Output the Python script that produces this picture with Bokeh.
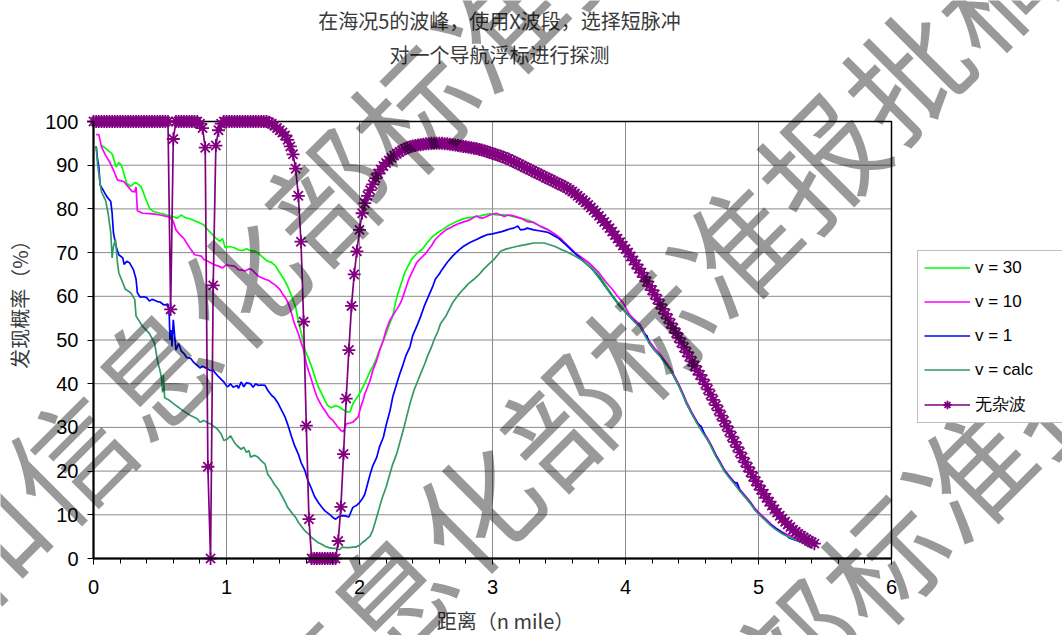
from math import pi
from bokeh.plotting import figure
from bokeh.models import Range1d, Label, Legend, LegendItem, SingleIntervalTicker
from bokeh.embed import file_html
from bokeh.resources import INLINE

# ---------------- data ----------------
v30_x = [0.06,0.10,0.14,0.17,0.19,0.21,0.23,0.25,0.28,0.31,0.33,0.36,0.39,0.42,0.45,0.50,0.53,0.56,0.60,0.63,
         0.66,0.69,0.73,0.76,0.80,0.83,0.86,0.89,0.92,0.95,0.97,0.99,1.02,1.06,1.09,1.12,1.15,1.18,1.21,1.24,
         1.27,1.30,1.34,1.37,1.40,1.43,1.46,1.49,1.52,1.54,1.57,1.59,1.62,1.64,1.67,1.69,1.72,1.74,1.76,1.79,
         1.82,1.85,1.88,1.91,1.93,1.95,1.98,2.00,2.03,2.05,2.08,2.10,2.13,2.15,2.18,2.20,2.23,2.25,2.27,2.29,
         2.32,2.34,2.37,2.39,2.43,2.47,2.51,2.55,2.59,2.62,2.67,2.73,2.77,2.80,2.85,2.91,2.95,2.98,3.03,3.07,
         3.11,3.15,3.19,3.24,3.29,3.35,3.42,3.47,3.52,3.57,3.62,3.67,3.72,3.76,3.80,
         3.85,3.90,3.95,4.00,4.03,4.07,4.11,4.15,4.18,4.22,4.26,4.30,4.34,4.37,4.40,4.43,4.46,4.50,4.54,4.58,
         4.62,4.65,4.68,4.71,4.74,4.78,4.82,4.86,4.90,4.94,4.97,5.01,5.05,5.09,5.13,5.18,5.23,5.28,5.32,5.36,5.40]
v30_y = [94.6,93.6,92.6,89.6,90.6,90.0,87.9,85.8,85.2,86.0,85.8,85.0,82.5,80.2,79.4,79.0,78.8,78.5,78.2,77.9,
         78.6,78.0,77.7,77.3,76.8,76.3,75.2,74.3,73.3,72.6,73.2,71.1,71.4,71.1,70.6,70.5,70.9,70.4,70.4,69.8,
         69.0,68.2,67.7,66.9,65.4,64.0,62.3,60.0,57.5,54.5,50.5,47.7,45.5,43.9,41.0,39.3,37.5,36.2,35.0,34.5,
         35.0,34.6,34.0,33.5,33.6,35.4,36.8,37.7,39.5,40.8,42.8,43.9,46.0,47.7,50.0,51.5,54.0,55.4,58.5,60.8,
         63.5,65.4,67.2,68.4,69.8,70.7,72.3,73.7,74.6,75.2,76.2,77.1,77.6,77.9,78.1,78.4,78.7,78.9,78.6,78.7,
         78.6,78.3,78.0,77.7,77.2,76.2,75.2,74.2,73.0,71.4,69.9,68.8,67.7,66.5,65.0,
         62.6,60.3,58.3,56.6,55.6,54.3,53.3,51.0,49.4,47.8,46.4,44.8,43.3,41.5,39.7,37.7,35.6,33.2,31.0,29.0,
         27.2,25.4,23.5,22.0,20.3,18.7,17.2,15.6,14.2,12.7,11.4,10.1,9.0,7.8,6.8,5.8,5.1,4.5,4.0,3.5,3.0]

v10_x = [0.02,0.04,0.06,0.09,0.12,0.15,0.18,0.21,0.23,0.26,0.29,0.31,0.32,0.33,0.37,0.42,0.46,0.50,0.55,0.58,
         0.60,0.62,0.65,0.68,0.70,0.73,0.76,0.78,0.81,0.83,0.86,0.88,0.91,0.94,0.97,1.00,1.03,1.06,1.09,1.12,
         1.14,1.17,1.19,1.22,1.24,1.27,1.29,1.32,1.34,1.37,1.40,1.42,1.45,1.47,1.49,1.51,1.54,1.56,1.58,1.60,
         1.62,1.64,1.66,1.68,1.70,1.72,1.75,1.77,1.80,1.82,1.84,1.86,1.88,1.90,1.93,1.95,1.97,1.99,2.01,2.03,
         2.04,2.06,2.08,2.10,2.13,2.15,2.18,2.20,2.23,2.25,2.28,2.30,2.32,2.35,2.37,2.40,2.43,2.46,2.50,2.54,
         2.57,2.61,2.65,2.70,2.75,2.79,2.83,2.88,2.90,2.93,2.96,2.98,3.03,3.06,3.09,3.12,3.14,3.17,3.21,3.26,
         3.31,3.36,3.42,3.47,3.52,3.57,3.62,3.67,3.72,3.76,3.80,3.85,3.90,3.94,3.98,
         4.03,4.07,4.11,4.15,4.18,4.22,4.26,4.30,4.34,4.37,4.40,4.43,4.46,4.50,4.54,4.58,4.62,4.65,4.68,4.71,
         4.74,4.78,4.82,4.86,4.90,4.94,4.97,5.01,5.05,5.09,5.13,5.18,5.23,5.28,5.32,5.36,5.40]
v10_y = [97.0,97.0,94.2,92.3,90.8,88.9,86.6,86.4,86.2,85.1,84.0,83.9,85.0,79.6,79.0,78.9,78.8,78.6,78.3,77.9,
         77.1,75.2,74.1,73.2,72.2,70.8,69.5,69.4,69.2,68.4,68.0,67.7,67.2,66.9,66.5,67.2,67.0,66.9,66.1,66.0,
         65.8,66.3,66.1,65.2,64.6,64.2,63.9,63.6,63.1,62.5,61.6,60.6,59.3,58.0,56.0,53.8,51.5,49.5,47.7,44.6,
         42.6,40.8,38.8,37.0,35.8,34.7,33.4,32.4,31.6,30.8,30.0,29.3,29.0,30.8,31.0,31.2,31.8,32.4,34.7,36.5,
         37.7,39.2,40.8,43.0,45.4,47.5,50.0,52.3,54.6,55.6,57.0,58.0,59.3,62.0,63.9,65.8,67.7,68.7,69.9,71.5,
         73.0,74.2,75.2,76.0,76.7,77.1,77.5,78.4,78.0,77.9,78.3,78.6,79.0,78.6,78.3,78.6,78.5,78.3,77.9,77.1,
         76.9,76.0,75.2,74.2,73.0,71.5,70.0,68.9,67.8,66.6,65.4,63.4,61.6,60.0,58.6,
         55.8,54.6,53.5,51.3,49.7,48.1,46.7,45.1,43.5,41.7,39.9,37.9,35.8,33.4,31.2,29.2,27.4,25.6,23.7,22.2,
         20.5,18.9,17.4,15.8,14.4,12.9,11.6,10.3,9.2,8.0,7.0,6.0,5.3,4.6,4.1,3.6,3.1]

v1_x = [0.02,0.03,0.04,0.05,0.08,0.10,0.13,0.14,0.15,0.17,0.19,0.22,0.23,0.25,0.27,0.30,0.32,0.33,0.35,0.38,
        0.40,0.42,0.44,0.46,0.48,0.50,0.53,0.56,0.57,0.575,0.585,0.59,0.60,0.61,0.62,0.64,0.66,0.68,0.70,0.73,
        0.75,0.78,0.80,0.82,0.85,0.88,0.90,0.92,0.94,0.96,0.98,1.00,1.01,1.03,1.05,1.08,1.09,1.11,1.13,1.15,
        1.18,1.20,1.22,1.24,1.26,1.29,1.31,1.34,1.36,1.39,1.41,1.44,1.46,1.49,1.51,1.54,1.56,1.59,1.61,1.64,
        1.66,1.69,1.72,1.74,1.77,1.80,1.82,1.85,1.87,1.90,1.92,1.95,1.98,2.00,2.02,2.04,2.06,2.08,2.10,2.13,
        2.15,2.18,2.20,2.23,2.25,2.28,2.30,2.33,2.35,2.38,2.40,2.43,2.46,2.49,2.52,2.55,2.57,2.60,2.62,2.66,
        2.70,2.74,2.78,2.83,2.88,2.92,2.96,3.00,3.03,3.07,3.11,3.14,3.16,3.19,3.21,3.24,3.26,3.31,3.35,3.39,
        3.42,3.46,3.50,3.55,3.60,3.65,3.70,3.75,3.80,
        3.85,3.90,3.95,4.00,4.03,4.07,4.11,4.14,4.16,4.18,4.22,4.26,4.30,4.34,4.37,4.40,4.43,4.46,4.50,4.54,
        4.57,4.60,4.64,4.68,4.71,4.74,4.78,4.82,4.84,4.86,4.90,4.94,4.97,5.01,5.05,5.09,5.13,5.18,5.21,5.23,
        5.28,5.32,5.36,5.40]
v1_y = [94.4,91.5,89.6,85.5,83.9,82.8,81.7,79.0,74.5,71.4,69.5,68.8,67.3,68.0,67.7,66.1,63.9,60.8,59.8,59.9,
        59.7,58.9,59.3,59.1,58.8,58.7,58.0,58.2,55.4,50.0,52.3,48.5,54.6,51.0,47.7,49.2,47.5,46.9,46.0,45.8,
        45.0,44.2,43.6,44.0,43.5,43.0,43.1,42.3,41.6,41.0,40.4,39.5,39.3,40.0,39.2,39.6,38.9,40.4,39.3,40.2,
        40.0,39.2,40.0,39.6,39.7,39.6,38.5,37.3,36.8,35.4,34.2,32.4,30.7,27.8,26.0,23.9,22.0,20.1,18.0,15.9,
        14.3,12.8,11.6,10.9,10.2,9.4,9.0,9.7,9.8,9.7,9.5,11.7,12.2,12.8,13.6,14.7,17.0,19.3,21.2,23.2,
        25.5,27.8,30.5,33.9,37.0,40.0,42.0,44.6,46.5,48.5,51.0,53.1,55.4,58.0,60.1,62.2,63.9,65.1,66.1,67.8,
        69.2,70.4,71.4,72.3,73.0,73.6,74.1,74.3,74.5,74.8,75.2,75.5,75.6,76.1,75.2,75.3,75.6,75.2,75.0,74.8,
        74.6,73.9,73.2,71.8,70.4,69.0,67.6,66.2,64.4,
        62.2,60.1,58.0,56.4,55.4,54.2,53.1,51.4,51.0,49.2,47.6,46.4,44.8,43.1,41.3,39.6,37.6,35.4,33.1,31.0,
        30.2,28.0,26.0,23.6,22.0,20.3,18.7,17.4,17.3,15.6,14.1,12.7,11.3,10.0,8.9,7.8,6.9,5.9,5.3,4.7,
        4.2,3.7,3.2,2.7]

calc_x = [0.02,0.03,0.05,0.06,0.09,0.11,0.13,0.14,0.15,0.165,0.18,0.19,0.22,0.24,0.28,0.31,0.32,0.33,0.37,0.42,
          0.46,0.48,0.50,0.51,0.52,0.525,0.535,0.57,0.62,0.67,0.73,0.78,0.80,0.83,0.86,0.88,0.93,0.96,0.98,1.01,
          1.03,1.06,1.08,1.11,1.13,1.15,1.17,1.18,1.21,1.235,1.26,1.29,1.31,1.34,1.36,1.39,1.41,1.44,1.46,1.49,
          1.52,1.54,1.57,1.59,1.62,1.64,1.67,1.69,1.72,1.74,1.77,1.80,1.82,1.85,1.87,1.90,1.92,1.95,1.97,2.00,
          2.02,2.05,2.08,2.10,2.12,2.15,2.17,2.20,2.22,2.25,2.28,2.30,2.33,2.36,2.38,2.41,2.44,2.46,2.49,2.51,
          2.54,2.56,2.59,2.61,2.65,2.70,2.74,2.78,2.82,2.86,2.90,2.93,2.97,3.01,3.04,3.06,3.10,3.14,3.18,3.21,
          3.26,3.31,3.35,3.39,3.43,3.47,3.51,3.55,3.59,3.62,3.66,3.70,3.75,3.80,
          3.85,3.90,3.95,4.00,4.03,4.07,4.11,4.15,4.18,4.22,4.26,4.30,4.34,4.37,4.40,4.43,4.46,4.50,4.54,4.58,
          4.62,4.65,4.68,4.71,4.74,4.78,4.82,4.86,4.90,4.94,4.97,5.01,5.05,5.09,5.13,5.18,5.23,5.28,5.32,5.36,5.40]
calc_y = [94.4,90.4,85.8,83.9,82.0,79.0,74.5,68.8,71.4,73.0,67.7,65.4,63.1,61.6,60.8,59.3,55.5,55.0,53.1,51.5,
          49.2,45.4,43.0,41.5,38.0,42.0,36.8,36.2,35.0,33.9,32.7,32.0,31.2,31.6,31.0,30.8,29.7,28.5,27.0,27.4,
          28.1,26.5,25.8,25.0,25.5,24.3,24.7,23.2,23.6,23.2,22.4,21.6,19.3,18.0,17.0,15.8,14.7,13.0,11.7,10.5,
          9.4,8.3,7.1,6.3,5.5,4.8,4.1,3.6,3.2,2.8,2.5,2.3,2.3,2.0,2.6,2.5,2.5,2.6,2.6,3.0,
          3.6,4.3,5.1,6.5,8.5,11.7,13.8,16.3,18.5,21.6,24.0,26.2,29.5,33.1,35.5,38.5,40.8,42.3,44.5,46.2,
          48.3,50.0,52.0,53.8,55.5,58.5,60.2,61.6,62.9,63.9,65.0,66.1,67.3,68.4,69.5,70.3,70.8,71.1,71.4,71.6,
          71.9,72.2,72.2,72.2,71.8,71.4,70.8,70.3,69.7,69.2,68.5,67.6,66.2,64.2,
          62.2,60.0,58.0,56.3,55.4,54.0,53.1,50.8,49.2,47.6,46.2,44.6,43.1,41.3,39.5,37.5,35.4,33.0,30.8,28.8,
          27.0,25.2,23.3,21.8,20.1,18.5,17.0,15.4,14.0,12.5,11.2,9.9,8.8,7.6,6.6,5.6,4.9,4.3,3.8,3.3,2.8]

# 无杂波: one reading every 0.02 n mile from 0 to 5.42
clear_y = ([100]*29 + [57, 96] + [100]*9 +
           [99.5, 98.5, 94, 21, 0, 62.5, 94.5, 98, 99.5] + [100]*17 +
           [99.8, 99.5, 99.0, 98.5, 98.0, 97.5, 96.8, 95.8, 94.3, 92.5, 89.2, 83.0, 72.5, 54.2, 30.4, 9.0] +
           [0]*10 +
           [4.0, 11.8, 23.9, 36.6, 47.7, 57.8, 65.0, 70.3, 75.2, 79.0,
            81.3, 83.0, 84.3, 85.6, 87.0, 88.1, 89.0, 89.8, 90.5, 91.1,
            91.7, 92.2, 92.6, 93.0, 93.4, 93.7, 94.0, 94.2, 94.4, 94.5,
            94.6, 94.7, 94.8, 94.9, 94.9, 95.0, 95.0, 95.0, 95.0, 95.0,
            94.9, 94.9, 94.8, 94.7, 94.6, 94.5, 94.4, 94.3, 94.2, 94.1,
            94.0, 93.9, 93.8, 93.6, 93.5, 93.3, 93.1, 92.9, 92.7, 92.5,
            92.3, 92.1, 91.9, 91.6, 91.4, 91.1, 90.8, 90.5, 90.2, 89.9,
            89.6, 89.3, 89.0, 88.7, 88.4, 88.1, 87.8, 87.5, 87.2, 86.9,
            86.6, 86.3, 86.0, 85.7, 85.4, 85.1, 84.8, 84.4, 84.0, 83.5,
            83.0, 82.5, 82.0, 81.5, 80.9, 80.3, 79.7, 79.1, 78.4, 77.7,
            77.0, 76.3, 75.6, 74.8, 74.0, 73.2, 72.4, 71.6, 70.8, 70.0,
            69.1, 68.2, 67.3, 66.3, 65.4, 64.4, 63.4, 62.4, 61.4, 60.4,
            59.3, 58.2, 57.1, 56.0, 54.9, 53.8, 52.7, 51.6, 50.5, 49.4,
            48.3, 47.2, 46.2, 45.1, 44.1, 43.0, 42.0, 41.0, 39.9, 38.7,
            37.5, 36.3, 35.1, 33.9, 32.7, 31.5, 30.3, 29.1, 27.9, 26.7,
            25.5, 24.3, 23.1, 22.0, 20.9, 19.8, 18.7, 17.7, 16.7, 15.7,
            14.8, 13.9, 13.0, 12.1, 11.3, 10.5, 9.8, 9.1, 8.4, 7.8,
            7.2, 6.6, 6.1, 5.6, 5.2, 4.8, 4.4, 4.0, 3.7, 3.4])
clear_x = [round(0.02 * i, 2) for i in range(len(clear_y))]

series_labels = ["v = 30", "v = 10", "v = 1", "v = calc", "无杂波"]
series_colors = ["#00FF00", "#FF00FF", "#0000FF", "#339966", "#800080"]

x_ticks = [0, 1, 2, 3, 4, 5, 6]
y_ticks = [0, 10, 20, 30, 40, 50, 60, 70, 80, 90, 100]

title_lines = ["在海况5的波峰，使用X波段，选择短脉冲", "对一个导航浮标进行探测"]
x_title = "距离（n mile）"
y_title = "发现概率（%）"
watermark = "工业和信息化部标准报批稿"

# ---------------- layout geometry (canvas pixels) ----------------
W, H = 1062, 635
PX0, PX1 = 93, 891      # x = 0 and x = 6
PY0, PY1 = 558, 121     # y = 0 and y = 100
sx = (PX1 - PX0) / 6.0
sy = (PY0 - PY1) / 100.0

def dx(px):
    return (px - PX0) / sx

def dy(py):
    return (PY0 - py) / sy

p = figure(width=W, height=H, x_range=Range1d(dx(0), dx(W)), y_range=Range1d(dy(H), dy(0)),
           output_backend="svg", toolbar_location=None,
           min_border=0, min_border_left=0, min_border_right=0, min_border_top=0, min_border_bottom=0)
p.background_fill_color = "white"
p.border_fill_color = "white"
p.outline_line_color = None
p.xgrid.visible = False
p.ygrid.visible = False

# grid lines and plot box from the tick values
p.segment(x0=x_ticks, y0=[y_ticks[0]]*len(x_ticks), x1=x_ticks, y1=[y_ticks[-1]]*len(x_ticks),
          line_color="#8a8a8a", line_width=1)
p.segment(x0=[x_ticks[0]]*len(y_ticks), y0=y_ticks, x1=[x_ticks[-1]]*len(y_ticks), y1=y_ticks,
          line_color="#8a8a8a", line_width=1)
p.quad(left=[x_ticks[0]], right=[x_ticks[-1]], bottom=[y_ticks[0]], top=[y_ticks[-1]],
       fill_color=None, line_color="black", line_width=1.5)

# axes fixed at the data origin
p.xaxis.fixed_location = 0
p.yaxis.fixed_location = 0
p.xaxis.bounds = (x_ticks[0], x_ticks[-1])
p.yaxis.bounds = (y_ticks[0], y_ticks[-1])
p.xaxis.ticker = SingleIntervalTicker(interval=1, num_minor_ticks=5)
p.yaxis.ticker = SingleIntervalTicker(interval=10, num_minor_ticks=0)
for ax in (p.xaxis, p.yaxis):
    ax.axis_line_color = "black"
    ax.axis_line_width = 2
    ax.major_tick_line_color = "black"
    ax.major_tick_in = 0
    ax.major_tick_out = 6
    ax.minor_tick_in = 0
    ax.major_label_text_font = "Liberation Sans"
    ax.major_label_text_font_size = "20px"
    ax.major_label_text_color = "black"
p.xaxis.minor_tick_out = 5
p.xaxis.minor_tick_line_color = "black"
p.yaxis.minor_tick_line_color = None
p.xaxis.major_label_standoff = 15
p.yaxis.major_label_standoff = 9

renderers = []
for xs, ys, c in [(v30_x, v30_y, series_colors[0]), (v10_x, v10_y, series_colors[1]),
                  (v1_x, v1_y, series_colors[2]), (calc_x, calc_y, series_colors[3])]:
    renderers.append([p.line(xs, ys, line_color=c, line_width=1.7)])
pl = p.line(clear_x, clear_y, line_color=series_colors[4], line_width=1.7)
pm = p.scatter(clear_x, clear_y, marker="asterisk", size=13, line_color=series_colors[4], line_width=1.8)
renderers.append([pl, pm])

legend = Legend(items=[LegendItem(label=lab, renderers=r) for lab, r in zip(series_labels, renderers)],
                location=(917, H - 423))
legend.label_text_font = "Liberation Sans"
legend.label_text_font_size = "17px"
legend.label_text_color = "black"
legend.glyph_width = 46
legend.glyph_height = 21
legend.label_height = 21
legend.label_width = 120
legend.label_standoff = 5
legend.spacing = 13
legend.padding = 6
legend.margin = 0
legend.border_line_color = "#808080"
legend.border_line_width = 1
legend.background_fill_color = "white"
legend.background_fill_alpha = 1
p.add_layout(legend)

cjk = "Noto Sans CJK SC"
for txt, py in zip(title_lines, [20, 54]):
    p.add_layout(Label(x=dx(499), y=dy(py), text=txt, text_align="center", text_baseline="middle",
                       text_font=cjk, text_font_size="20px", text_color="#3a3a3a"))
p.add_layout(Label(x=dx(505), y=dy(620), text=x_title, text_align="center", text_baseline="middle",
                   text_font=cjk, text_font_size="20px", text_color="#3a3a3a"))
p.add_layout(Label(x=dx(19), y=dy(299), text=y_title, text_align="center", text_baseline="middle",
                   angle=pi / 2, text_font=cjk, text_font_size="20px", text_color="#3a3a3a"))

# watermark: three diagonal rows of large grey characters over the chart
step = (86.0, -87.0)
anchors = [(238, 280), (473, 505), (708, 730)]   # canvas position of "化" in each row
k_anchor = watermark.index("化")
for ax0, ay0 in anchors:
    for k, ch in enumerate(watermark):
        cx = ax0 + (k - k_anchor) * step[0]
        cy = ay0 + (k - k_anchor) * step[1]
        if -70 < cx < W + 70 and -70 < cy < H + 70:
            p.add_layout(Label(x=dx(cx), y=dy(cy), text=ch, text_align="center", text_baseline="middle",
                               angle=pi / 4, text_font=cjk, text_font_size="120px",
                               text_color="black", text_alpha=0.4, level="overlay"))

open("out.html", "w").write(file_html(p, INLINE))
